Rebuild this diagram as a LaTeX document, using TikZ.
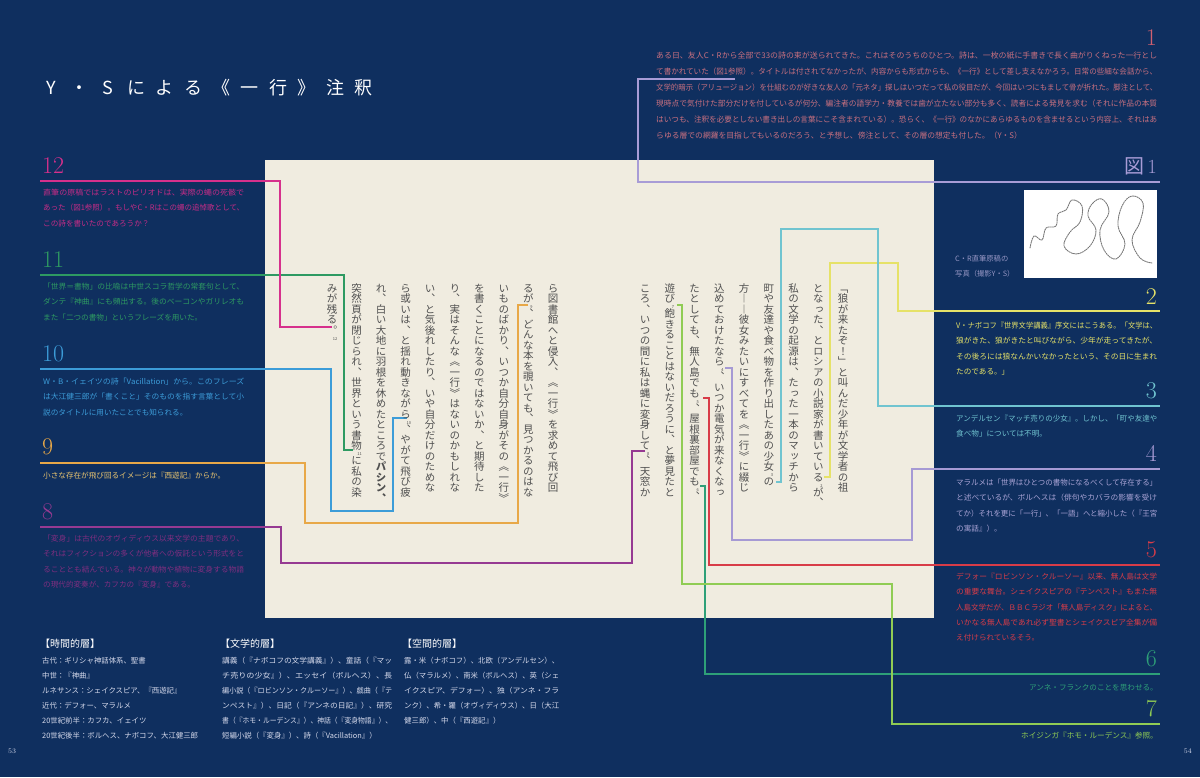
\documentclass[tikz,border=0pt]{standalone}
\usepackage{fontspec}
\usepackage{graphicx}
\newfontfamily\jp{Noto Sans CJK JP}
\newfontfamily\jpv{Noto Sans CJK JP}[RawFeature=+vert]
\definecolor{bg}{RGB}{15,47,95}
\definecolor{cream}{RGB}{240,236,224}
\definecolor{maintext}{RGB}{80,80,80}
\definecolor{c1}{RGB}{168,156,214}
\definecolor{t1}{RGB}{200,112,128}
\definecolor{n1}{RGB}{208,96,112}
\definecolor{c2}{RGB}{230,226,104}
\definecolor{c3}{RGB}{112,196,208}
\definecolor{c4}{RGB}{166,154,212}
\definecolor{t4}{RGB}{170,164,214}
\definecolor{c5}{RGB}{216,60,72}
\definecolor{c6}{RGB}{46,160,120}
\definecolor{c7}{RGB}{144,204,84}
\definecolor{c8}{RGB}{150,58,146}
\definecolor{t8}{RGB}{128,46,128}
\definecolor{c9}{RGB}{232,168,72}
\definecolor{t9}{RGB}{232,196,112}
\definecolor{c10}{RGB}{60,156,216}
\definecolor{c11}{RGB}{46,154,98}
\definecolor{c12}{RGB}{214,48,140}
\definecolor{t12}{RGB}{196,44,134}
\definecolor{legend}{RGB}{214,218,236}
\definecolor{capcol}{RGB}{150,150,196}
\definecolor{squig}{RGB}{120,120,120}
\makeatletter
\newlength\cw
\setlength\cw{10.5pt}
\def\vsend{\vsend@}
\def\nm{\nm@}
\def\vsch#1{\hbox to\cw{\hss\vrule height .88\cw depth .12\cw width 0pt\relax#1\hss}}
\def\vsnum#1{\hbox to\cw{\hss\vrule height .42\cw depth 0pt width 0pt\relax\kern.6\cw{\fontsize{4pt}{4pt}\selectfont #1}\hss}\vsaux}
\def\vsaux#1{%
  \ifx#1\vsend\let\vsnext\relax
  \else\ifx#1\nm\let\vsnext\vsnum
  \else\ifx#1\bfseries\bfseries\let\vsnext\vsaux
  \else\vsch{#1}\let\vsnext\vsaux
  \fi\fi\fi\vsnext}
\newcommand\vcol[1]{\vtop{\offinterlineskip\jpv\fontsize{10.5pt}{10.5pt}\selectfont\vsaux#1\vsend}}
\def\spaux#1{\ifx#1\vsend\else\hbox to 28.4pt{\hss#1\hss}\expandafter\spaux\fi}
\newcommand\sptitle[1]{\spaux#1\vsend}
\makeatother
\newcommand\jl[2]{\resizebox{#1}{\height}{#2}}
\def\wL{201pt}
\def\wN{501pt}
\def\wB{170pt}
\def\wC{155pt}
\tikzset{
  lead/.style={line width=1.1pt},
  vtext/.style={anchor=north, inner sep=0pt, text=maintext},
  noteL/.style={anchor=north west, inner sep=0pt, align=left, font=\jp\fontsize{7.6pt}{15.2pt}\selectfont},
  noteone/.style={anchor=north west, inner sep=0pt, align=left, font=\jp\fontsize{7.8pt}{16pt}\selectfont},
  leg/.style={anchor=north west, inner sep=0pt, align=left, text=legend, font=\jp\fontsize{7.4pt}{14.9pt}\selectfont},
  leghead/.style={anchor=west, inner sep=0pt, text=white, font=\jp\fontsize{10pt}{12pt}\selectfont},
  numL/.style={anchor=base west, inner sep=0pt, font=\fontsize{24pt}{24pt}\selectfont},
  numR/.style={anchor=base east, inner sep=0pt, font=\fontsize{24pt}{24pt}\selectfont},
  pnum/.style={inner sep=0pt, text=legend, font=\fontsize{7pt}{8pt}\selectfont}
}
\begin{document}
\begin{tikzpicture}[x=1pt,y=-1pt]
\fill[bg] (0,0) rectangle (1200,777);
\useasboundingbox (0,0) rectangle (1200,777);
\fill[cream] (265,160) rectangle (934,618);

% title
\node[anchor=west, inner sep=0pt, text=white, font=\jp\fontsize{18pt}{20pt}\selectfont] (title) at (36.8,88) {\sptitle{Y・Sによる《一行》注釈}};

% figure 1
\node[anchor=base east, inner sep=0pt, text=c1, font=\fontsize{20pt}{22pt}\selectfont] (fig) at (1157,173) {{\jp 図}\,1};
\fill[white] (1024,190) rectangle (1157,278);
\draw[squig, line width=0.9pt, dash pattern=on 1.4pt off 0.9pt, line cap=round]
  plot[smooth, tension=0.65] coordinates {(1030,248) (1034,236) (1042,240) (1046,228) (1056,226) (1058,214) (1066,210) (1072,200) (1082,206) (1080,222) (1070,232) (1064,246) (1076,254) (1090,246) (1096,230) (1088,216) (1092,204) (1102,199) (1109,212) (1100,230) (1104,250) (1116,259) (1125,244) (1118,226) (1122,206) (1132,196) (1143,203) (1140,222) (1132,240) (1140,258) (1152,263)};
\node[noteL, text=capcol, font=\jp\fontsize{7.3pt}{15.2pt}\selectfont] (cap) at (955,255) {C・R直筆原稿の\\写真（撮影Y・S）};

% leader lines
\coordinate (a1) at (735,79);   \coordinate (r1) at (1160,182);
\coordinate (a2) at (824,477);  \coordinate (r2) at (1160,311);
\coordinate (a3) at (776,482);  \coordinate (r3) at (1160,406);
\coordinate (a4) at (725,368);  \coordinate (r4) at (1160,469);
\coordinate (a5) at (703,398);  \coordinate (r5) at (1160,565);
\coordinate (a6) at (700,486);  \coordinate (r6) at (1160,674);
\coordinate (a7) at (677,305);  \coordinate (r7) at (1160,724);
\coordinate (a8) at (645,451);  \coordinate (r8) at (40,527);
\coordinate (a9) at (528,305);  \coordinate (r9) at (40,463);
\coordinate (a10) at (407,418); \coordinate (r10) at (40,369);
\coordinate (a11) at (353,450); \coordinate (r11) at (40,275);
\coordinate (a12) at (332,327); \coordinate (r12) at (40,181);
\draw[lead, c1] (a1) -- (638,79) -- (638,182) -- (r1);
\draw[lead, c2] (a2) -- (830,477) -- (830,263) -- (898,263) -- (898,311) -- (r2);
\draw[lead, c3] (a3) -- (781,482) -- (781,229) -- (878,229) -- (878,406) -- (r3);
\draw[lead, c4] (a4) -- (732,368) -- (732,540) -- (912,540) -- (912,469) -- (r4);
\draw[lead, c5] (a5) -- (709,398) -- (709,565) -- (r5);
\draw[lead, c6] (a6) -- (705,486) -- (705,674) -- (r6);
\draw[lead, c7] (a7) -- (682,305) -- (682,584) -- (892,584) -- (892,724) -- (r7);
\draw[lead, c8] (a8) -- (632,451) -- (632,563) -- (281,563) -- (281,527) -- (r8);
\draw[lead, c9] (a9) -- (518,305) -- (518,523) -- (305,523) -- (305,463) -- (r9);
\draw[lead, c10] (a10) -- (393,418) -- (393,511) -- (331,511) -- (331,369) -- (r10);
\draw[lead, c11] (a11) -- (344,450) -- (344,275) -- (r11);
\draw[lead, c12] (a12) -- (280,327) -- (280,181) -- (r12);

% main vertical text, page 54
\node[vtext] (v1) at (843,283) {\vcol{「狼が来たぞ！」と叫んだ少年が文学者の祖}};
\node[vtext] (v2) at (818.25,283) {\vcol{となった、とロシアの小説家が書いている\nm{2}が、}};
\node[vtext] (v3) at (793.5,283) {\vcol{私の文学の起源は、たった一本のマッチから}};
\node[vtext] (v4) at (768.75,283) {\vcol{町や友達や食べ物を作り出したあの少女\nm{3}の}};
\node[vtext] (v5) at (744,283) {\vcol{方――彼女みたいにすべてを《一行》に綴じ}};
\node[vtext] (v6) at (719.25,283) {\vcol{込めておけたなら\nm{4}、いつか電気が来なくなっ}};
\node[vtext] (v7) at (694.5,283) {\vcol{たとしても、無人島でも\nm{5}、屋根裏部屋でも\nm{6}、}};
\node[vtext] (v8) at (669.75,283) {\vcol{遊び\nm{7}飽きることはないだろうに、と夢見たと}};
\node[vtext] (v9) at (645,283) {\vcol{ころ、いつの間に私は蝿に変身して\nm{8}、天窓か}};
% page 53
\node[vtext] (w1) at (553,283) {\vcol{ら図書館へと侵入、《一行》を求めて飛び回}};
\node[vtext] (w2) at (528.4,283) {\vcol{るが\nm{9}、どんな本を覗いても、見つかるのはな}};
\node[vtext] (w3) at (503.9,283) {\vcol{いものばかり、いつか自分自身がその《一行》}};
\node[vtext] (w4) at (479.3,283) {\vcol{を書くことになるのではないか、と期待した}};
\node[vtext] (w5) at (454.8,283) {\vcol{り、実はそんな《一行》はないのかもしれな}};
\node[vtext] (w6) at (430.2,283) {\vcol{い、と気後れしたり、いや自分だけのためな}};
\node[vtext] (w7) at (405.6,283) {\vcol{ら或いは、と揺れ動きながら\nm{10}、やがて飛び疲}};
\node[vtext] (w8) at (381.1,283) {\vcol{れ、白い大地に羽根を休めたところで\bfseries パシン、}};
\node[vtext] (w9) at (356.5,283) {\vcol{突然頁が閉じられ、世界という書物\nm{11}に私の染}};
\node[vtext] (w10) at (332,283) {\vcol{みが残る。\nm{12}}};

% note 1
\node[numR, text=n1] (n1) at (1157,45) {1};
\node[noteone, text=t1] (t1) at (656,52) {%
\jl{\wN}{ある日、友人C・Rから全部で33の詩の束が送られてきた。これはそのうちのひとつ。詩は、一枚の紙に手書きで長く曲がりくねった一行とし}\\
\jl{\wN}{て書かれていた（図1参照）。タイトルは付されてなかったが、内容からも形式からも、《一行》として差し支えなかろう。日常の些細な会話から、}\\
\jl{\wN}{文学的暗示（アリュージョン）を仕組むのが好きな友人の「元ネタ」探しはいつだって私の役目だが、今回はいつにもまして骨が折れた。脚注として、}\\
\jl{\wN}{現時点で気付けた部分だけを付しているが何分、編注者の語学力・教養では歯が立たない部分も多く、読者による発見を求む（それに作品の本質}\\
\jl{\wN}{はいつも、注釈を必要としない書き出しの言葉にこそ含まれている）。恐らく、《一行》のなかにあらゆるものを含ませるという内容上、それはあ}\\
らゆる層での網羅を目指してもいるのだろう、と予想し、傍注として、その層の想定も付した。（Y・S）};

% left notes
\node[numL, text=c12] (n12) at (42,173) {12};
\node[noteL, text=t12] (t12) at (43,189) {%
\jl{\wL}{直筆の原稿ではラストのピリオドは、実際の蠅の死骸で}\\
\jl{\wL}{あった（図1参照）。もしやC・Rはこの蠅の追悼歌として、}\\
この詩を書いたのであろうか？};
\node[numL, text=c11] (n11) at (42,267) {11};
\node[noteL, text=c11] (t11) at (43,283) {%
\jl{\wL}{「世界＝書物」の比喩は中世スコラ哲学の常套句として、}\\
\jl{\wL}{ダンテ『神曲』にも頻出する。後のベーコンやガリレオも}\\
また「二つの書物」というフレーズを用いた。};
\node[numL, text=c10] (n10) at (42,361) {10};
\node[noteL, text=c10] (t10) at (43,378) {%
\jl{\wL}{W・B・イェイツの詩「Vacillation」から。このフレーズ}\\
\jl{\wL}{は大江健三郎が「書くこと」そのものを指す言葉として小}\\
説のタイトルに用いたことでも知られる。};
\node[numL, text=c9] (n9) at (42,454) {9};
\node[noteL, text=t9] (t9) at (43,472) {小さな存在が飛び回るイメージは『西遊記』からか。};
\node[numL, text=c8] (n8) at (42,519) {8};
\node[noteL, text=t8] (t8) at (43,535) {%
\jl{\wL}{「変身」は古代のオヴィディウス以来文学の主題であり、}\\
\jl{\wL}{それはフィクションの多くが他者への仮託という形式をと}\\
\jl{\wL}{ることとも結んでいる。神々が動物や植物に変身する物語}\\
の現代的変奏が、カフカの『変身』である。};

% right notes
\node[numR, text=c2] (n2) at (1157,304) {2};
\node[noteL, text=c2] (t2) at (956,322) {%
\jl{\wL}{V・ナボコフ『世界文学講義』序文にはこうある。「文学は、}\\
\jl{\wL}{狼がきた、狼がきたと叫びながら、少年が走ってきたが、}\\
\jl{\wL}{その後ろには狼なんかいなかったという、その日に生まれ}\\
たのである。」};
\node[numR, text=c3] (n3) at (1157,398) {3};
\node[noteL, text=c3] (t3) at (956,415) {%
\jl{\wL}{アンデルセン『マッチ売りの少女』。しかし、「町や友達や}\\
食べ物」については不明。};
\node[numR, text=c4] (n4) at (1157,461) {4};
\node[noteL, text=t4] (t4) at (956,479) {%
\jl{\wL}{マラルメは「世界はひとつの書物になるべくして存在する」}\\
\jl{\wL}{と述べているが、ボルヘスは（俳句やカバラの影響を受け}\\
\jl{\wL}{てか）それを更に「一行」、「一語」へと縮小した（『王宮}\\
の寓話』）。};
\node[numR, text=c5] (n5) at (1157,557) {5};
\node[noteL, text=c5] (t5) at (956,573) {%
\jl{\wL}{デフォー『ロビンソン・クルーソー』以来、無人島は文学}\\
\jl{\wL}{の重要な舞台。シェイクスピアの『テンペスト』もまた無}\\
\jl{\wL}{人島文学だが、ＢＢＣラジオ「無人島ディスク」によると、}\\
\jl{\wL}{いかなる無人島であれ必ず聖書とシェイクスピア全集が備}\\
え付けられているそう。};
\node[numR, text=c6] (n6) at (1157,666) {6};
\node[anchor=east, inner sep=0pt, text=c6, font=\jp\fontsize{7.6pt}{9pt}\selectfont] (t6) at (1158,688) {アンネ・フランクのことを思わせる。};
\node[numR, text=c7] (n7) at (1157,716) {7};
\node[anchor=east, inner sep=0pt, text=c7, font=\jp\fontsize{7.6pt}{9pt}\selectfont] (t7) at (1158,736) {ホイジンガ『ホモ・ルーデンス』参照。};

% legend
\node[leghead] (h1) at (40,644) {【時間的層】};
\node[leg] (l1) at (42,657) {古代：ギリシャ神話体系、聖書\\中世：『神曲』\\ルネサンス：シェイクスピア、『西遊記』\\近代：デフォー、マラルメ\\20世紀前半：カフカ、イェイツ\\20世紀後半：ボルヘス、ナボコフ、大江健三郎};
\node[leghead] (h2) at (220,644) {【文学的層】};
\node[leg] (l2) at (222,657) {%
\jl{\wB}{講義（『ナボコフの文学講義』）、童話（『マッ}\\
\jl{\wB}{チ売りの少女』）、エッセイ（ボルヘス）、長}\\
\jl{\wB}{編小説（『ロビンソン・クルーソー』）、戯曲（『テ}\\
\jl{\wB}{ンペスト』）、日記（『アンネの日記』）、研究}\\
\jl{\wB}{書（『ホモ・ルーデンス』）、神話（『変身物語』）、}\\
短編小説（『変身』）、詩（『Vacillation』）};
\node[leghead] (h3) at (402,644) {【空間的層】};
\node[leg] (l3) at (404,657) {%
\jl{\wC}{露・米（ナボコフ）、北欧（アンデルセン）、}\\
\jl{\wC}{仏（マラルメ）、南米（ボルヘス）、英（シェ}\\
\jl{\wC}{イクスピア、デフォー）、独（アンネ・フラ}\\
\jl{\wC}{ンク）、希・羅（オヴィディウス）、日（大江}\\
健三郎）、中（『西遊記』）};

% page numbers
\node[pnum, anchor=west] (p53) at (8,751) {53};
\node[pnum, anchor=east] (p54) at (1192,751) {54};
\end{tikzpicture}
\end{document}
